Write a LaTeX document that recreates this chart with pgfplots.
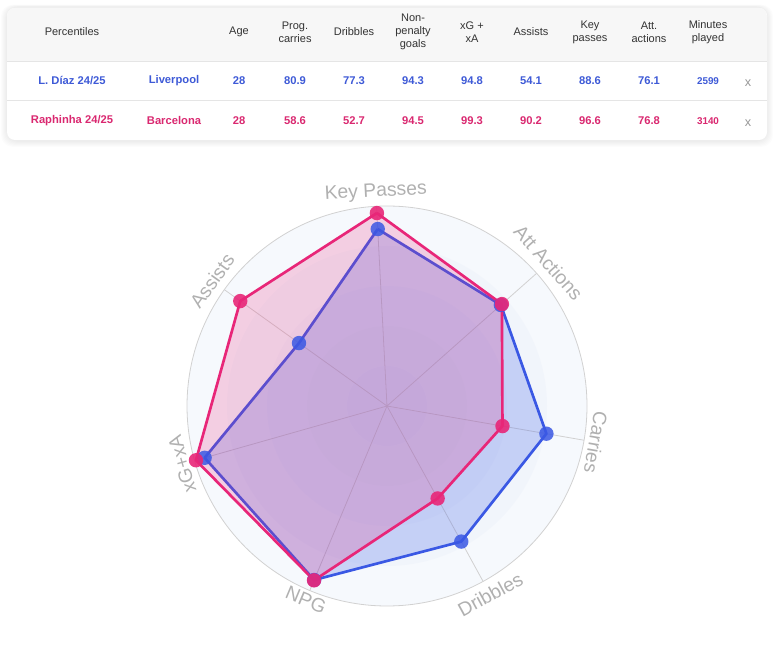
\documentclass[border=0pt]{standalone}
\usepackage{pgfplots}
\pgfplotsset{compat=1.18}
\usepgfplotslibrary{polar}
\usepackage{pgfplotstable}
\usepackage{fontspec}
\setmainfont{Liberation Sans}

\definecolor{diaz}{RGB}{58,88,228}
\definecolor{raph}{RGB}{232,38,120}
\definecolor{diaztxt}{RGB}{62,90,215}
\definecolor{raphtxt}{RGB}{218,40,112}
\definecolor{hdr}{RGB}{51,51,51}
\definecolor{lbl}{RGB}{176,176,176}
\definecolor{ring}{RGB}{214,226,244}

% percentiles, angle of each spoke in degrees
\pgfplotstableread{
ang r
93 88.6
41.571 76.1
-9.857 80.9
-61.286 77.3
-112.714 94.3
-164.143 94.8
-215.571 54.1
-267 88.6
}\diaz

\pgfplotstableread{
ang r
93 96.6
41.571 76.8
-9.857 58.6
-61.286 52.7
-112.714 94.5
-164.143 99.3
-215.571 90.2
-267 96.6
}\raph

\begin{document}
\begin{tikzpicture}[x=0.75pt,y=0.75pt]
\path[use as bounding box] (0,0) rectangle (774,646);

% table card
\foreach \i in {1,...,6}
  \fill[black, opacity=0.012, rounded corners=9pt] ({7-\i},{505-\i}) rectangle ({767+\i},{639+0.4*\i});
\fill[white, rounded corners=6pt] (7,506) rectangle (767,638);
\begin{scope}
  \clip[rounded corners=6pt] (7,506) rectangle (767,638);
  \fill[black!3] (7,584) rectangle (767,638);
\end{scope}
\draw[black!10, line width=0.75pt] (7,584) -- (767,584);
\draw[black!10, line width=0.75pt] (7,545) -- (767,545);

\begin{scope}[every node/.style={text=hdr, align=center, font=\fontsize{8.25}{9.9}\selectfont}]
  \node at (72,614) {Percentiles};
  \node at (239,614) {Age};
  \node at (295,614) {Prog.\\carries};
  \node at (354,614) {Dribbles};
  \node at (413,614) {Non-\\penalty\\goals};
  \node at (472,614) {xG +\\xA};
  \node at (531,614) {Assists};
  \node at (590,614) {Key\\passes};
  \node at (649,614) {Att.\\actions};
  \node at (708,614) {Minutes\\played};
\end{scope}

\begin{scope}[every node/.style={text=diaztxt, font=\fontsize{8.4}{10}\selectfont\bfseries}]
  \node at (72,565) {L. Díaz 24/25};
  \node at (174,565) {Liverpool};
  \node at (239,565) {28};
  \node at (295,565) {80.9};
  \node at (354,565) {77.3};
  \node at (413,565) {94.3};
  \node at (472,565) {94.8};
  \node at (531,565) {54.1};
  \node at (590,565) {88.6};
  \node at (649,565) {76.1};
  \node[font=\fontsize{7.4}{9}\selectfont\bfseries] at (708,565) {2599};
\end{scope}
\begin{scope}[every node/.style={text=raphtxt, font=\fontsize{8.4}{10}\selectfont\bfseries}]
  \node at (72,525) {Raphinha 24/25};
  \node at (174,525) {Barcelona};
  \node at (239,525) {28};
  \node at (295,525) {58.6};
  \node at (354,525) {52.7};
  \node at (413,525) {94.5};
  \node at (472,525) {99.3};
  \node at (531,525) {90.2};
  \node at (590,525) {96.6};
  \node at (649,525) {76.8};
  \node[font=\fontsize{7.4}{9}\selectfont\bfseries] at (708,525) {3140};
\end{scope}
\node[text=black!40, font=\fontsize{9.5}{11}\selectfont] at (748,563) {x};
\node[text=black!40, font=\fontsize{9.5}{11}\selectfont] at (748,523) {x};

% radar background rings
\fill[ring, opacity=0.22] (387,240) circle [radius=200];
\foreach \rr in {160,120,80,40}
  \fill[ring, opacity=0.15] (387,240) circle [radius=\rr];
\draw[black!18, line width=0.6pt] (387,240) circle [radius=200];

\begin{polaraxis}[
  at={(290.25pt,180pt)}, anchor=center,
  scale only axis, width=300pt, height=300pt,
  ymin=0, ymax=100,
  axis line style={draw=none},
  major tick length=0pt,
  xtick={93,41.571,350.143,298.714,247.286,195.857,144.429},
  xticklabels={},
  ytick=\empty,
  xmajorgrids,
  major grid style={black!18, line width=0.6pt},
  clip=false,
]
  \addplot[draw=diaz, line width=2pt, line join=round, fill=diaz, fill opacity=0.24, mark=none] table {\diaz};
  \addplot[only marks, mark=*, mark size=5.4pt, mark options={draw=diaz, draw opacity=0, fill=diaz, fill opacity=0.85}, skip coords between index={7}{8}] table {\diaz};
  \addplot[draw=raph, line width=2pt, line join=round, fill=raph, fill opacity=0.2, mark=none] table {\raph};
  \addplot[only marks, mark=*, mark size=5.4pt, mark options={draw=raph, draw opacity=0, fill=raph, fill opacity=0.9}, skip coords between index={7}{8}] table {\raph};

  \begin{scope}[every node/.style={text=lbl, font=\fontsize{14.5}{16}\selectfont}]
    \node[rotate=3] at (axis cs:93,107) {Key Passes};
    \node[rotate=-48.4] at (axis cs:41.571,108) {Att Actions};
    \node[rotate=-99.9] at (axis cs:-9.857,106) {Carries};
    \node[rotate=28.7] at (axis cs:-61.286,107.5) {Dribbles};
    \node[rotate=-22.7] at (axis cs:-112.714,105) {NPG};
    \node[rotate=105.9] at (axis cs:195.857,106.5) {xG+xA};
    \node[rotate=54.4] at (axis cs:144.429,107.5) {Assists};
  \end{scope}
\end{polaraxis}
\end{tikzpicture}
\end{document}
